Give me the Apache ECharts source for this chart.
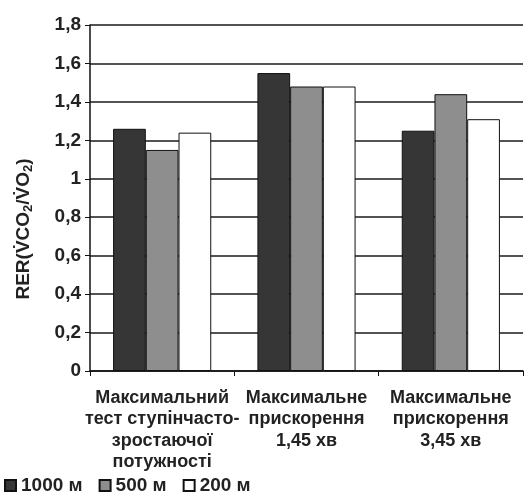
<!DOCTYPE html>
<html><head><meta charset="utf-8">
<script src="https://cdn.jsdelivr.net/npm/echarts@6/dist/echarts.min.js"></script>
<style>html,body{margin:0;padding:0;background:#fff}#c{width:524px;height:496px}</style>
</head><body><div id="c"></div>
<script>
const categories = ['Максимальний\nтест ступінчасто-\nзростаючої\nпотужності', 'Максимальне\nприскорення\n1,45 хв', 'Максимальне\nприскорення\n3,45 хв'];
const seriesNames = ['1000 м', '500 м', '200 м'];
const values1000 = [1.26, 1.55, 1.25];
const values500 = [1.15, 1.48, 1.44];
const values200 = [1.24, 1.48, 1.31];
const yMin = 0, yMax = 1.8, yStep = 0.2;

const chart = echarts.init(document.getElementById('c'));
const font = 'Liberation Sans, Arial, sans-serif';
const colors = ['#363636', '#8e8e8e', '#ffffff'];
const data = [values1000, values500, values200];
chart.setOption({
  animation: false,
  backgroundColor: '#fff',
  grid: { left: 90, right: 1, top: 25, bottom: 125 },
  legend: {
    left: 4, top: 476, itemWidth: 11, itemHeight: 11, itemGap: 16,
    icon: 'rect', padding: 0,
    textStyle: { fontFamily: font, fontSize: 19, color: '#222', fontWeight: 'bold' },
    data: seriesNames
  },
  xAxis: {
    type: 'category', data: categories,
    axisLine: { lineStyle: { color: '#111', width: 1.5 } },
    axisTick: { show: true, length: 5, lineStyle: { color: '#111' } },
    axisLabel: { fontFamily: font, fontSize: 18, color: '#222', fontWeight: 'bold', lineHeight: 21.5, margin: 16, interval: 0 }
  },
  yAxis: {
    type: 'value', min: yMin, max: yMax, interval: yStep,
    axisLine: { show: true, lineStyle: { color: '#111', width: 1.5 } },
    axisTick: { show: true, length: 5, lineStyle: { color: '#111' } },
    splitLine: { lineStyle: { color: '#1a1a1a', width: 1.5 } },
    axisLabel: {
      fontFamily: font, fontSize: 19, color: '#222', fontWeight: 'bold', margin: 9,
      formatter: v => String(Number(v.toFixed(1))).replace('.', ',')
    }
  },
  graphic: [{
    type: 'text', x: 24, y: 229, rotation: Math.PI / 2,
    style: {
      text: 'RER(V\u0307CO{s|2}/V\u0307O{s|2})',
      fontFamily: font, fontSize: 19, fontWeight: 'bold', fill: '#222',
      align: 'center', verticalAlign: 'middle',
      rich: { s: { fontSize: 13, fontWeight: 'bold', fontFamily: font, fill: '#222', verticalAlign: 'bottom', padding: [9, 0, 0, 0] } }
    }
  }],
  series: seriesNames.map((n, i) => ({
    name: n, type: 'bar', data: data[i],
    barGap: '0%', barCategoryGap: '32%',
    itemStyle: { color: colors[i], borderColor: '#111', borderWidth: 1 }
  }))
});
</script></body></html>
